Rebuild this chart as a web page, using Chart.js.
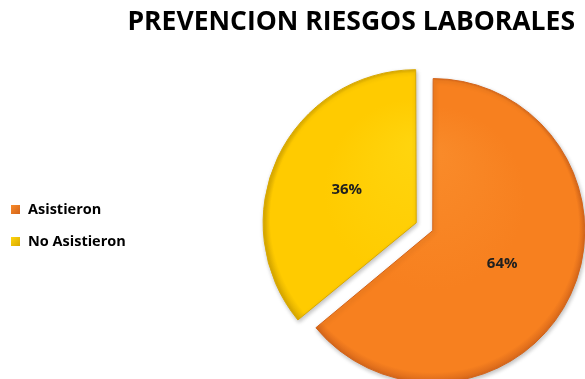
<!DOCTYPE html>
<html>
<head>
<meta charset="utf-8">
<script src="https://cdn.jsdelivr.net/npm/chart.js@4.4.1/dist/chart.umd.min.js"></script>
<style>
  html, body { margin: 0; padding: 0; background: #fff; }
  #wrap { position: relative; width: 585px; height: 379px; }
</style>
</head>
<body>
<div id="wrap"><canvas id="chart"></canvas></div>
<script>
// Chart data
const categories = ['Asistieron', 'No Asistieron'];
const values = [64, 36];
const chartTitle = 'PREVENCION RIESGOS LABORALES';

// Slice colours (light, main, edge)
const sliceColors = [
  ['#F98B2A', '#F7801F', '#D3641A'],
  ['#FFD50E', '#FFCB00', '#D9A900']
];
const sliceOffsets = [10, 63];
const pieRadius = 149.5;

const FONT = "'Open Sans', sans-serif";

// Radial gradient for the bevelled slice look
function sliceGradient(context) {
  const chart = context.chart;
  const area = chart.chartArea;
  const c = sliceColors[context.dataIndex % sliceColors.length];
  if (!area) return c[1];
  const cx = (area.left + area.right) / 2;
  const cy = (area.top + area.bottom) / 2;
  const r = pieRadius + 4;
  const g = chart.ctx.createRadialGradient(cx, cy - 80, 0, cx, cy, r);
  g.addColorStop(0, c[0]);
  g.addColorStop(0.6, c[1]);
  g.addColorStop(0.95, c[1]);
  g.addColorStop(1, c[2]);
  return g;
}

// Title, right aligned over the pie
const titleText = {
  id: 'titleText',
  afterDraw(chart) {
    const ctx = chart.ctx;
    ctx.save();
    ctx.font = 'bold 26.5px ' + FONT;
    ctx.fillStyle = '#000';
    ctx.textAlign = 'right';
    ctx.textBaseline = 'alphabetic';
    ctx.fillText(chartTitle, 575, 30);
    ctx.restore();
  }
};

// Percent labels inside the slices
const sliceLabels = {
  id: 'sliceLabels',
  afterDatasetsDraw(chart) {
    const ctx = chart.ctx;
    const meta = chart.getDatasetMeta(0);
    const data = chart.data.datasets[0].data;
    const total = data.reduce((a, b) => a + b, 0);
    ctx.save();
    ctx.font = 'bold 15px ' + FONT;
    ctx.fillStyle = '#1f1f1f';
    ctx.textAlign = 'center';
    ctx.textBaseline = 'middle';
    meta.data.forEach((arc, i) => {
      const mid = (arc.startAngle + arc.endAngle) / 2;
      const off = (arc.options.offset || 0) / 4;
      const d = off + arc.outerRadius / 2 + 2;
      const x = arc.x + Math.cos(mid) * d;
      const y = arc.y + Math.sin(mid) * d;
      ctx.fillText(Math.round(data[i] / total * 100) + '%', x, y);
    });
    ctx.restore();
  }
};

// Legend on the left
const sideLegend = {
  id: 'sideLegend',
  afterDraw(chart) {
    const ctx = chart.ctx;
    const labels = chart.data.labels;
    ctx.save();
    ctx.font = 'bold 14.5px ' + FONT;
    ctx.textBaseline = 'middle';
    labels.forEach((label, i) => {
      const y = 205 + i * 32;
      const c = sliceColors[i];
      const g = ctx.createLinearGradient(11, y, 20, y + 9);
      g.addColorStop(0, c[0]);
      g.addColorStop(1, c[2]);
      ctx.fillStyle = g;
      ctx.fillRect(11, y, 9, 9);
      ctx.fillStyle = '#000';
      ctx.fillText(label, 28, y + 5);
    });
    ctx.restore();
  }
};

// Soft shadow under the slices
const sliceShadow = {
  id: 'sliceShadow',
  beforeDatasetsDraw(chart) {
    const ctx = chart.ctx;
    ctx.save();
    ctx.shadowColor = 'rgba(0,0,0,0.25)';
    ctx.shadowBlur = 4;
    ctx.shadowOffsetX = 1;
    ctx.shadowOffsetY = 2;
  },
  afterDatasetsDraw(chart) {
    chart.ctx.restore();
  }
};

new Chart(document.getElementById('chart'), {
  type: 'pie',
  data: {
    labels: categories,
    datasets: [{
      data: values,
      backgroundColor: sliceGradient,
      borderColor: sliceColors.map(c => c[2]),
      borderWidth: 1,
      offset: sliceOffsets,
      clip: false
    }]
  },
  plugins: [sliceShadow, sliceLabels, sideLegend, titleText],
  options: {
    responsive: true,
    maintainAspectRatio: false,
    animation: false,
    events: [],
    radius: pieRadius,
    layout: {
      padding: { left: 286, right: 10, top: 80, bottom: 0 }
    },
    plugins: {
      legend: { display: false },
      tooltip: { enabled: false },
      title: { display: false }
    }
  }
});
</script>
</body>
</html>
